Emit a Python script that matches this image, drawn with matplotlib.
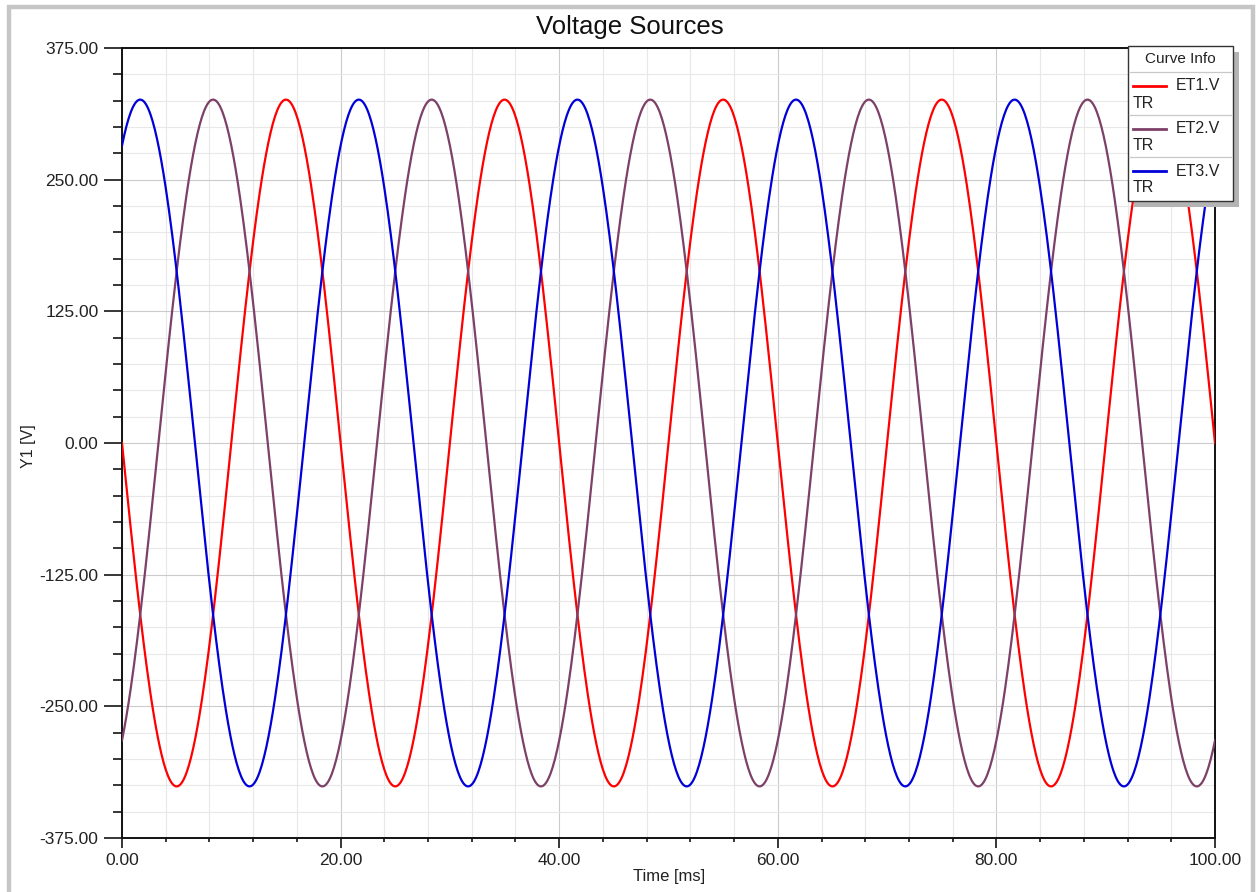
import numpy as np
import matplotlib.pyplot as plt
from matplotlib.patches import Rectangle
from matplotlib.lines import Line2D
from matplotlib.ticker import MultipleLocator, FormatStrFormatter

# Source settings
names = ['ET1.V', 'ET2.V', 'ET3.V']
colors = ['#ff0000', '#7d4068', '#0000d8']
peak_v = 326.0          # peak of every phase [V]
freq_hz = 50.0          # period of 20 ms
phase_deg = [180.0, -60.0, 60.0]
t_ms = np.arange(0.0, 100.05, 0.1)

W, H = 1257, 892
plt.rcParams['font.family'] = ['Liberation Sans', 'DejaVu Sans']
fig = plt.figure(figsize=(W / 100, H / 100), dpi=100)
ax = fig.add_axes([122 / W, 1 - 838 / H, (1215 - 122) / W, (838 - 48) / H])

# Outer gray frame of the window
fig.patches.append(Rectangle((9 / W, -0.05), (1253 - 9) / W, 1.05 - 6.5 / H,
                             transform=fig.transFigure, fill=False,
                             edgecolor='#c6c6c6', linewidth=3.2))

# Curves
for name, col, ph in zip(names, colors, phase_deg):
    v = peak_v * np.sin(2 * np.pi * freq_hz * t_ms / 1000.0 + np.radians(ph))
    ax.plot(t_ms, v, color=col, linewidth=1.6, zorder=3)

ax.set_xlim(0, 100)
ax.set_ylim(-375, 375)
ax.xaxis.set_major_locator(MultipleLocator(20))
ax.xaxis.set_minor_locator(MultipleLocator(4))
ax.yaxis.set_major_locator(MultipleLocator(125))
ax.yaxis.set_minor_locator(MultipleLocator(25))
ax.xaxis.set_major_formatter(FormatStrFormatter('%.2f'))
ax.yaxis.set_major_formatter(FormatStrFormatter('%.2f'))
ax.grid(which='major', color='#cbcbcb', linewidth=0.8, zorder=0)
ax.grid(which='minor', color='#e8e8e8', linewidth=0.8, zorder=0)
ax.set_axisbelow(True)
for s in ax.spines.values():
    s.set_linewidth(1.4)
    s.set_color('#111111')
ax.tick_params(axis='y', which='major', length=13, width=1.1, pad=4, labelsize=12.5, labelcolor='#222222')
ax.tick_params(axis='y', which='minor', length=6.5, width=1.1)
ax.tick_params(axis='x', which='major', length=7, width=1.1, pad=3.5, labelsize=12.5, labelcolor='#222222')
ax.tick_params(axis='x', which='minor', length=3, width=1.1)

# Titles
fig.text(630 / W, 1 - 27 / H, 'Voltage Sources', ha='center', va='center', fontsize=18.5, color='#111111')
fig.text(669 / W, 1 - 877 / H, 'Time [ms]', ha='center', va='center', fontsize=12, color='#222222')
fig.text(29 / W, 1 - 446 / H, 'Y1 [V]', ha='center', va='center', rotation=90, fontsize=11.5, color='#222222')

# Legend box "Curve Info" drawn in pixel coords
def px(x, y):
    return x / W, 1 - y / H

bx0, by0, bx1, by1 = 1128, 46, 1233, 201
fig.patches.append(Rectangle(px(bx0 + 6, by1 + 6), (bx1 - bx0) / W, (by1 - by0) / H,
                             transform=fig.transFigure, facecolor='#b4b4b4', edgecolor='none', zorder=5))
fig.patches.append(Rectangle(px(bx0, by1), (bx1 - bx0) / W, (by1 - by0) / H,
                             transform=fig.transFigure, facecolor='white', edgecolor='#333333',
                             linewidth=1.0, zorder=6))
fig.text(*px(1180, 59), 'Curve Info', ha='center', va='center', fontsize=11, color='#222222', zorder=7)
for yy in [72, 115, 157]:
    fig.lines.append(Line2D([(bx0 + 1) / W, (bx1 - 1) / W], [1 - yy / H] * 2, transform=fig.transFigure,
                            color='#c8c8c8', linewidth=0.9, zorder=7))
for i, (name, col) in enumerate(zip(names, colors)):
    yl = 86 + i * 42.5
    fig.lines.append(Line2D([1133 / W, 1166 / W], [1 - yl / H] * 2, transform=fig.transFigure,
                            color=col, linewidth=2.0, zorder=7))
    fig.text(*px(1176, yl), name, ha='left', va='center', fontsize=11.5, color='#222222', zorder=7)
    fig.text(*px(1133, yl + 17), 'TR', ha='left', va='center', fontsize=11.5, color='#222222', zorder=7)

fig.savefig('out.png', dpi=100)
